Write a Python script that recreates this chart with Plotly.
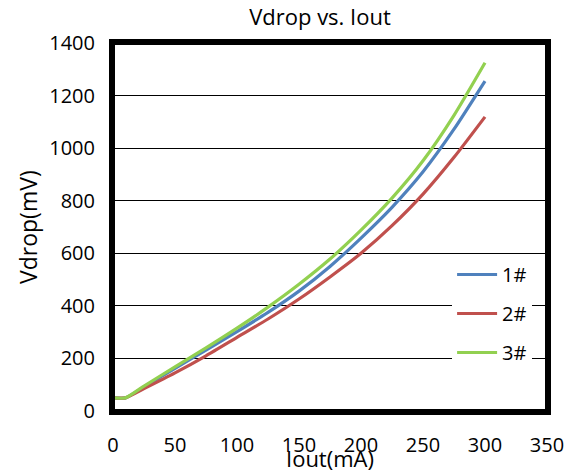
import plotly.graph_objects as go

iout = [0, 10, 25, 50, 75, 100, 125, 150, 175, 200, 225, 250, 275, 300]
v1 = [50, 50, 92, 162, 232, 302, 375, 456, 550, 658, 775, 910, 1072, 1255]
v2 = [50, 50, 85, 145, 210, 280, 350, 426, 510, 600, 705, 825, 965, 1119]
v3 = [50, 50, 95, 168, 240, 315, 395, 482, 578, 688, 810, 952, 1125, 1325]
names = ["1#", "2#", "3#"]
colors = ["#4F81BD", "#C0504D", "#92D050"]

FONT = "Open Sans, Liberation Sans, sans-serif"

fig = go.Figure()
for ys, nm, c in zip([v1, v2, v3], names, colors):
    fig.add_trace(go.Scatter(x=iout, y=ys, mode="lines", name=nm,
                             legendgroup=nm,
                             line=dict(color=c, width=3.2, shape="spline", smoothing=0.6)))

fig.update_layout(
    width=576, height=475,
    margin=dict(l=113, r=24, t=43, b=64),
    paper_bgcolor="white", plot_bgcolor="white",
    font=dict(family=FONT, size=20, color="black"),
    title=dict(text="Vdrop vs. Iout", x=320 / 576,
               xanchor="center", y=1 - 17 / 475, yanchor="middle",
               font=dict(size=22)),
    showlegend=True,
    legend=dict(x=(456 - 113) / 439, y=(411 - 255) / 368, xanchor="left", yanchor="top",
                bgcolor="white", borderwidth=0,
                font=dict(size=20), tracegroupgap=10,
                traceorder="grouped", itemwidth=40),
    xaxis=dict(range=[0, 350], dtick=50, tick0=0, showgrid=False,
               showline=True, linecolor="black", linewidth=4, mirror=True,
               ticks="", zeroline=False, ticklabelstandoff=13,
               tickfont=dict(size=20)),
    yaxis=dict(range=[0, 1400], dtick=200, tick0=0, showgrid=True,
               gridcolor="black", gridwidth=1.3,
               showline=True, linecolor="black", linewidth=4, mirror=True,
               ticks="", zeroline=False, ticklabelstandoff=10,
               tickfont=dict(size=20)),
    shapes=[dict(type="rect", xref="paper", yref="paper", x0=0, y0=0, x1=1, y1=1,
                 line=dict(color="black", width=4), layer="above")],
    annotations=[
        dict(text="Vdrop(mV)", xref="paper", yref="paper", x=(27 - 113) / 439, y=(411 - 227) / 368,
             xanchor="center", yanchor="middle", textangle=-90,
             showarrow=False, font=dict(size=23)),
        dict(text="Iout(mA)", xref="paper", yref="paper", x=(332 - 113) / 439, y=(411 - 458) / 368,
             xanchor="center", yanchor="middle",
             showarrow=False, font=dict(size=22)),
    ],
)

fig.write_html("out.html", config={"displayModeBar": False},
               post_script="document.body.style.margin='0';")
